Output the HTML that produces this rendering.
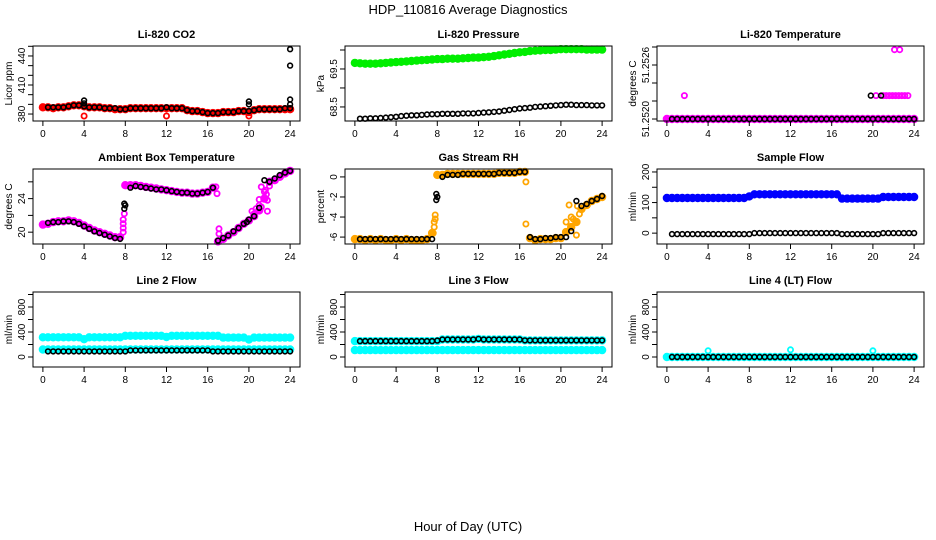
<!DOCTYPE html>
<html><head><meta charset="utf-8"><style>
body{margin:0;background:#fff;}
svg{display:block;font-family:"Liberation Sans",Arial,sans-serif;}
</style></head><body>
<svg id="chart" width="936" height="540" viewBox="0 0 936 540">
<text x="468" y="14" font-size="13" text-anchor="middle">HDP_110816  Average Diagnostics</text>
<text x="468" y="531" font-size="13" text-anchor="middle">Hour of Day (UTC)</text>
</svg>
<script>
const hourTicks = [0,4,8,12,16,20,24];
const hours = Array.from({length:49},(_,i)=>i/2);
const blackHours = hours.slice(1);

const co2Red = [387,387,386,387,387,388,389,389,388,387,387,387,386,386,385,385,385,386,386,386,386,386,386,386,386,386,386,386,384,383,383,382,381,381,381,382,382,382,383,383,382,384,385,385,385,385,385,385,385];
const co2Black = [387,387,387,387,388,389,389,388,387,387,387,386,386,386,385,385,386,386,386,386,386,386,386,387,386,386,386,384,383,383,382,381,381,381,382,382,382,383,383,383,384,385,385,385,385,385,386,386];
const co2RedExtraH = [4,12,20];
const co2RedExtraV = [378,378,378];
const co2BlackExtraH = [4,4,20,20,24,24,24,24];
const co2BlackExtraV = [394,391,393,390,447,430,395,390];

const presGreen = [69.66,69.65,69.64,69.64,69.64,69.65,69.66,69.67,69.68,69.69,69.7,69.71,69.72,69.73,69.74,69.75,69.76,69.76,69.77,69.77,69.77,69.78,69.79,69.8,69.8,69.81,69.82,69.84,69.86,69.88,69.9,69.92,69.94,69.95,69.97,69.98,69.99,70.0,70.0,70.01,70.02,70.02,70.02,70.02,70.02,70.01,70.01,70.01,70.01];
const presBlack = [68.19,68.19,68.2,68.2,68.21,68.22,68.23,68.24,68.26,68.27,68.28,68.28,68.29,68.3,68.31,68.31,68.32,68.32,68.32,68.32,68.33,68.33,68.33,68.34,68.35,68.36,68.37,68.38,68.4,68.42,68.44,68.46,68.47,68.48,68.5,68.51,68.52,68.53,68.54,68.55,68.56,68.56,68.55,68.55,68.55,68.54,68.54,68.54];

const tempMag = [51.2520,51.2520,51.2520,51.2520,51.2520,51.2520,51.2520,51.2520,51.2520,51.2520,51.2520,51.2520,51.2520,51.2520,51.2520,51.2520,51.2520,51.2520,51.2520,51.2520,51.2520,51.2520,51.2520,51.2520,51.2520,51.2520,51.2520,51.2520,51.2520,51.2520,51.2520,51.2520,51.2520,51.2520,51.2520,51.2520,51.2520,51.2520,51.2520,51.2520,51.2520,51.2520,51.2520,51.2520,51.2520,51.2520,51.2520,51.2520,51.2520];
const tempBlack = [51.2520,51.2520,51.2520,51.2520,51.2520,51.2520,51.2520,51.2520,51.2520,51.2520,51.2520,51.2520,51.2520,51.2520,51.2520,51.2520,51.2520,51.2520,51.2520,51.2520,51.2520,51.2520,51.2520,51.2520,51.2520,51.2520,51.2520,51.2520,51.2520,51.2520,51.2520,51.2520,51.2520,51.2520,51.2520,51.2520,51.2520,51.2520,51.2520,51.2520,51.2520,51.2520,51.2520,51.2520,51.2520,51.2520,51.2520,51.2520];
const tempMagExtraH = [1.7,20.3,21.0,21.3,21.6,21.9,22.2,22.5,22.8,23.1,23.4,22.1,22.6];
const tempMagExtraV = [51.25226,51.25226,51.25226,51.25226,51.25226,51.25226,51.25226,51.25226,51.25226,51.25226,51.25226,51.25277,51.25277];
const tempBlackExtraH = [19.8,20.8];
const tempBlackExtraV = [51.25226,51.25226];

const ambMag = [20.9,21.0,21.2,21.3,21.3,21.4,21.3,21.1,20.8,20.5,20.2,20.0,19.8,19.6,19.4,19.4,25.6,25.6,25.6,25.5,25.4,25.3,25.2,25.1,25.0,24.9,24.8,24.7,24.7,24.6,24.6,24.7,24.8,25.3,18.9,19.2,19.6,20.0,20.5,21.0,21.4,21.9,22.6,24.0,26.0,26.2,26.6,27.0,27.3];
const ambBlack = [21.1,21.2,21.2,21.3,21.3,21.2,21.0,20.7,20.4,20.1,19.9,19.7,19.5,19.3,19.2,23.2,25.3,25.5,25.4,25.3,25.2,25.1,25.1,25.0,24.9,24.8,24.7,24.7,24.6,24.6,24.7,24.8,25.3,19.0,19.3,19.6,20.1,20.5,21.0,21.5,21.9,22.9,26.2,26.0,26.4,26.8,27.1,27.3];
const ambMagExtraH = [7.8,7.8,7.8,7.8,7.9,16.8,16.9,17.1,17.1,20.5,20.7,21.0,21.0,21.2,21.5,21.8,21.6,21.7,21.8,22.0,20.3,21.2];
const ambMagExtraV = [20.0,20.5,21.0,21.5,22.2,25.4,24.6,20.4,19.8,22.2,22.8,23.2,23.9,25.4,24.8,22.5,25.0,24.5,23.8,25.5,22.5,23.0];
const ambBlackExtraH = [7.9,7.9,19.8];
const ambBlackExtraV = [22.8,23.4,21.2];

const rhOrange = [-6.2,-6.2,-6.3,-6.2,-6.3,-6.2,-6.3,-6.3,-6.2,-6.3,-6.2,-6.3,-6.3,-6.3,-6.2,-5.6,0.2,0.2,0.3,0.3,0.3,0.3,0.3,0.3,0.3,0.3,0.3,0.3,0.4,0.4,0.4,0.4,0.5,0.5,-6.1,-6.3,-6.2,-6.2,-6.2,-6.1,-6.1,-5.5,-5.0,-4.5,-3.2,-2.8,-2.4,-2.2,-2.0];
const rhBlack = [-6.2,-6.2,-6.2,-6.2,-6.2,-6.2,-6.2,-6.2,-6.2,-6.2,-6.2,-6.2,-6.2,-6.2,-6.2,-2.0,0.0,0.2,0.2,0.2,0.3,0.3,0.3,0.3,0.3,0.3,0.3,0.4,0.4,0.4,0.4,0.5,0.5,-6.0,-6.2,-6.2,-6.1,-6.1,-6.0,-6.0,-6.0,-5.4,-2.4,-2.9,-2.7,-2.4,-2.2,-1.9];
const rhOrangeExtraH = [7.6,7.7,7.7,7.8,7.8,16.6,16.6,20.5,20.8,21.2,21.5,21.8,21.6,21.0];
const rhOrangeExtraV = [-5.6,-5.0,-4.5,-3.8,-4.2,-0.5,-4.7,-4.5,-2.8,-4.2,-5.8,-3.7,-2.9,-4.0];
const rhBlackExtraH = [7.9,7.9];
const rhBlackExtraV = [-2.3,-1.7];

const sampleBlue = [115,115,115,115,115,115,115,115,115,115,115,115,115,115,115,115,120,127,127,127,127,127,127,127,127,127,127,127,127,127,127,127,127,127,113,113,113,113,113,113,113,113,118,118,118,118,118,118,118];
const sampleBlack = [-3,-3,-3,-3,-3,-3,-3,-3,-3,-3,-3,-3,-3,-3,-3,-3,0,0,0,0,0,0,0,0,0,0,0,0,0,0,0,0,0,-3,-3,-3,-3,-3,-3,-3,-3,0,0,0,0,0,0,0];

const l2CyanUpper = [315,315,315,315,315,315,315,315,285,315,315,315,315,315,315,315,340,340,340,340,340,340,340,340,320,340,340,340,340,340,340,340,340,340,340,310,310,310,310,310,280,310,310,310,310,310,310,310,310];
const l2CyanLower = [120,120,120,120,120,120,120,120,120,120,120,120,120,120,120,120,120,120,120,120,120,120,120,120,120,120,120,120,120,120,120,120,120,120,120,120,120,120,120,120,120,120,120,120,120,120,120,120,120];
const l2Black = [90,90,90,90,90,90,90,90,90,90,90,90,90,90,90,90,105,105,105,105,105,105,105,105,105,105,105,105,105,105,105,105,90,90,90,90,90,90,90,90,90,90,90,90,90,90,90,90];

const l3CyanUpper = [255,255,255,255,255,255,255,255,255,255,255,255,255,255,255,255,255,280,280,280,280,280,280,280,290,280,280,280,280,280,280,280,280,265,265,265,265,265,265,265,265,265,265,265,265,265,265,265,265];
const l3CyanLower = [110,110,110,110,110,110,110,110,110,110,110,110,110,110,110,110,110,110,110,110,110,110,110,110,110,110,110,110,110,110,110,110,110,110,110,110,110,110,110,110,110,110,110,110,110,110,110,110,110];
const l3Black = [255,255,255,255,255,255,255,255,255,255,255,255,255,255,255,262,280,280,280,280,280,280,280,290,280,280,280,280,280,280,280,280,265,265,265,265,265,265,265,265,265,265,265,265,265,265,265,265];

const l4Cyan = [0,0,0,0,0,0,0,0,0,0,0,0,0,0,0,0,0,0,0,0,0,0,0,0,0,0,0,0,0,0,0,0,0,0,0,0,0,0,0,0,0,0,0,0,0,0,0,0,0];
const l4Black = [0,0,0,0,0,0,0,0,0,0,0,0,0,0,0,0,0,0,0,0,0,0,0,0,0,0,0,0,0,0,0,0,0,0,0,0,0,0,0,0,0,0,0,0,0,0,0,0];
const l4CyanExtraH = [4,12,20];
const l4CyanExtraV = [100,115,100];

const co2Ticks = [380,390,400,410,420,430,440,450];
const co2Labels = ["380","","","410","","","440",""];
const presTicks = [68.5,69.0,69.5,70.0];
const presLabels = ["68.5","","69.5",""];
const tempTicks = [51.2520,51.2522,51.2524,51.2526,51.2528];
const tempLabels = ["51.2520","","","51.2526",""];
const ambTicks = [20,22,24,26];
const ambLabels = ["20","","24",""];
const rhTicks = [-6,-4,-2,0];
const rhLabels = ["-6","-4","-2","0"];
const sampleTicks = [0,50,100,150,200];
const sampleLabels = ["0","","100","","200"];
const flowTicks = [0,200,400,600,800,1000];
const flowLabels = ["0","","400","","800",""];

const NS = "http://www.w3.org/2000/svg";
const svg = document.getElementById('chart');
function mk(tag, attrs, parent){
  const e = document.createElementNS(NS, tag);
  for (const k in attrs) e.setAttribute(k, attrs[k]);
  (parent||svg).appendChild(e);
  return e;
}
const colLeft = [33,345,657];
const rowTop = [46,169,292];
const W = 267, H = 75;

function panel(key, col, row, title, ytitle, ylo, yhi, ticks, labels, layers){
  const L = colLeft[col], T = rowTop[row], B = T + H;
  const g = mk('g', {});
  
  
  const xs = h => L + (h + 0.96) / 25.92 * W;
  const ys = v => B - (v - ylo) / (yhi - ylo) * H;
  const t = mk('text', {x: L + W/2, y: T - 8, 'font-size': 11, 'font-weight': 'bold', 'text-anchor': 'middle'}, g);
  t.textContent = title;
  
  
  const pg = mk('g', {}, g);
  
  
  layers.forEach(ly => {
    ly.v.forEach((v, i) => {
      const c = mk('circle', {cx: xs(ly.h[i]).toFixed(1), cy: ys(v).toFixed(1), r: ly.r, fill: ly.f, stroke: ly.c, 'stroke-width': ly.w}, pg);
      
      
    });
  });
  const box = mk('rect', {x: L, y: T, width: W, height: H, fill: 'none', stroke: '#000', 'stroke-width': 1}, g);
  
  
  const xa = mk('g', {}, g);
  
  
  mk('line', {x1: xs(0), x2: xs(24), y1: B, y2: B, stroke: '#000'}, xa);
  hourTicks.forEach(h => {
    mk('line', {x1: xs(h), x2: xs(h), y1: B, y2: B + 5, stroke: '#000'}, xa);
    const tx = mk('text', {x: xs(h), y: B + 16, 'font-size': 10, 'text-anchor': 'middle'}, xa);
    tx.textContent = h;
  });
  const ya = mk('g', {}, g);
  
  
  mk('line', {x1: L, x2: L, y1: ys(ticks[0]), y2: ys(ticks[ticks.length-1]), stroke: '#000'}, ya);
  ticks.forEach((tv, i) => {
    const y = ys(tv);
    mk('line', {x1: L - 5, x2: L, y1: y, y2: y, stroke: '#000'}, ya);
    if (labels[i]) {
      const tx = mk('text', {x: L - 8, y: y, 'font-size': 10, 'text-anchor': 'middle', transform: `rotate(-90 ${L-8} ${y})`}, ya);
      tx.textContent = labels[i];
    }
  });
  const yt = mk('text', {x: L - 21, y: T + H/2, 'font-size': 10, 'text-anchor': 'middle', transform: `rotate(-90 ${L-21} ${T+H/2})`}, g);
  yt.textContent = ytitle;
  
  
}
const C = (h, v, c, n) => ({h, v, c, n, r: 3, w: 2.4, f: c});
const O = (h, v, c, n) => ({h, v, c, n, r: 2.6, w: 1.8, f: 'none'});
const K = (h, v, n) => ({h, v, c: '#000', n, r: 2.4, w: 1.6, f: 'none'});

panel('co2', 0, 0, 'Li-820 CO2', 'Licor ppm', 372.8, 450.3, co2Ticks, co2Labels, [
  C(hours, co2Red, '#ff0000', 'co2-all-point'), O(co2RedExtraH, co2RedExtraV, '#ff0000', 'co2-outlier-point'),
  K(blackHours, co2Black, 'co2-average-point'), K(co2BlackExtraH, co2BlackExtraV, 'co2-average-outlier')]);
panel('pressure', 1, 0, 'Li-820 Pressure', 'kPa', 68.13, 70.105, presTicks, presLabels, [
  C(hours, presGreen, '#00ee00', 'pressure-all-point'), K(blackHours, presBlack, 'pressure-average-point')]);
panel('licor-temp', 2, 0, 'Li-820 Temperature', 'degrees C', 51.251978, 51.252811, tempTicks, tempLabels, [
  C(hours, tempMag, '#ff00ff', 'licor-temp-all-point'), K(blackHours, tempBlack, 'licor-temp-average-point'),
  O(tempMagExtraH, tempMagExtraV, '#ff00ff', 'licor-temp-outlier'), K(tempBlackExtraH, tempBlackExtraV, 'licor-temp-average-outlier')]);
panel('ambient', 0, 1, 'Ambient Box Temperature', 'degrees C', 18.59, 27.53, ambTicks, ambLabels, [
  C(hours, ambMag, '#ff00ff', 'ambient-all-point'), O(ambMagExtraH, ambMagExtraV, '#ff00ff', 'ambient-outlier'),
  K(blackHours, ambBlack, 'ambient-average-point'), K(ambBlackExtraH, ambBlackExtraV, 'ambient-average-outlier')]);
panel('rh', 1, 1, 'Gas Stream RH', 'percent', -6.69, 0.79, rhTicks, rhLabels, [
  C(hours, rhOrange, '#ffa500', 'rh-all-point'), O(rhOrangeExtraH, rhOrangeExtraV, '#ffa500', 'rh-outlier'),
  K(blackHours, rhBlack, 'rh-average-point'), K(rhBlackExtraH, rhBlackExtraV, 'rh-average-outlier')]);
panel('sample-flow', 2, 1, 'Sample Flow', 'ml/min', -35.5, 209.7, sampleTicks, sampleLabels, [
  C(hours, sampleBlue, '#0000ff', 'sample-flow-all-point'), K(blackHours, sampleBlack, 'sample-flow-average-point')]);
panel('line2', 0, 2, 'Line 2 Flow', 'ml/min', -160, 1040, flowTicks, flowLabels, [
  C(hours, l2CyanUpper, '#00ffff', 'line2-upper-point'), C(hours, l2CyanLower, '#00ffff', 'line2-lower-point'),
  K(blackHours, l2Black, 'line2-average-point')]);
panel('line3', 1, 2, 'Line 3 Flow', 'ml/min', -160, 1040, flowTicks, flowLabels, [
  C(hours, l3CyanUpper, '#00ffff', 'line3-upper-point'), C(hours, l3CyanLower, '#00ffff', 'line3-lower-point'),
  K(blackHours, l3Black, 'line3-average-point')]);
panel('line4', 2, 2, 'Line 4 (LT) Flow', 'ml/min', -160, 1040, flowTicks, flowLabels, [
  C(hours, l4Cyan, '#00ffff', 'line4-all-point'), O(l4CyanExtraH, l4CyanExtraV, '#00ffff', 'line4-outlier'),
  K(blackHours, l4Black, 'line4-average-point')]);
</script>
</body></html>
